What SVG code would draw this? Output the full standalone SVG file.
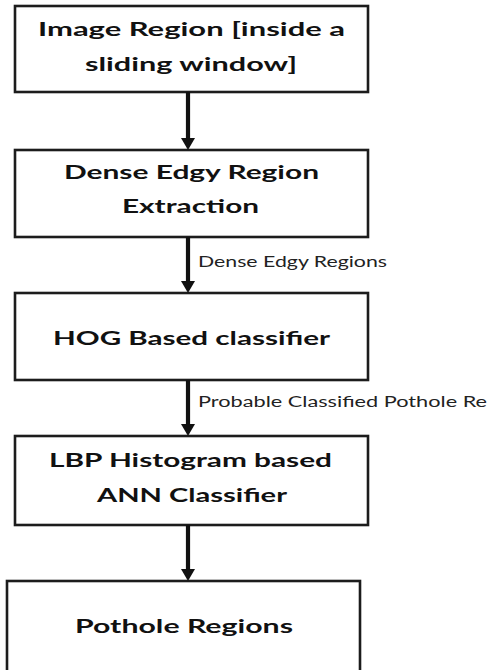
<svg xmlns="http://www.w3.org/2000/svg" width="487" height="670" viewBox="0 0 487 670">
  <style>
    .box { fill: #ffffff; stroke: #1c1c1c; stroke-width: 2.6; }
    .title { font-family: Lato, "Open Sans", "Liberation Sans", sans-serif; font-weight: 700; font-size: 19.5px; fill: #111111; text-anchor: middle; }
    .lbl { font-family: Lato, "Open Sans", "Liberation Sans", sans-serif; font-size: 14.5px; fill: #222222; }
    .wire { stroke: #111111; stroke-width: 4.2; fill: none; }
    .head { fill: #111111; }
  </style>
  <rect width="487" height="670" fill="#ffffff"/>

  <g id="node-image-region">
    <rect class="box" x="15" y="6" width="353" height="86"/>
    <text class="title" x="191.5" y="36" textLength="307" lengthAdjust="spacingAndGlyphs">Image Region [inside a</text>
    <text class="title" x="191" y="71" textLength="212" lengthAdjust="spacingAndGlyphs">sliding window]</text>
  </g>

  <g id="node-dense-edgy">
    <rect class="box" x="15" y="150" width="353" height="87"/>
    <text class="title" x="191.5" y="179" textLength="255" lengthAdjust="spacingAndGlyphs">Dense Edgy Region</text>
    <text class="title" x="190.5" y="213" textLength="137" lengthAdjust="spacingAndGlyphs">Extraction</text>
  </g>

  <g id="node-hog">
    <rect class="box" x="15" y="293" width="353" height="87"/>
    <text class="title" x="191.5" y="345" textLength="277" lengthAdjust="spacingAndGlyphs">HOG Based classifier</text>
  </g>

  <g id="node-lbp">
    <rect class="box" x="15" y="436" width="353" height="89"/>
    <text class="title" x="190.5" y="467" textLength="283" lengthAdjust="spacingAndGlyphs">LBP Histogram based</text>
    <text class="title" x="192" y="502" textLength="190" lengthAdjust="spacingAndGlyphs">ANN Classifier</text>
  </g>

  <g id="node-pothole">
    <rect class="box" x="7" y="581" width="353" height="100"/>
    <text class="title" x="184" y="633" textLength="218" lengthAdjust="spacingAndGlyphs">Pothole Regions</text>
  </g>

  <g id="connectors">
    <line class="wire" x1="188" y1="92" x2="188" y2="140"/>
    <polygon class="head" points="181,138 195,138 188,150"/>

    <line class="wire" x1="188" y1="237" x2="188" y2="283"/>
    <polygon class="head" points="181,281 195,281 188,293"/>
    <text class="lbl" x="198" y="267" textLength="189" lengthAdjust="spacingAndGlyphs">Dense Edgy Regions</text>

    <line class="wire" x1="188" y1="380" x2="188" y2="426"/>
    <polygon class="head" points="181,424 195,424 188,436"/>
    <text class="lbl" x="198" y="407" textLength="289" lengthAdjust="spacingAndGlyphs">Probable Classified Pothole Re</text>

    <line class="wire" x1="188" y1="525" x2="188" y2="571"/>
    <polygon class="head" points="181,569 195,569 188,581"/>
  </g>
</svg>
